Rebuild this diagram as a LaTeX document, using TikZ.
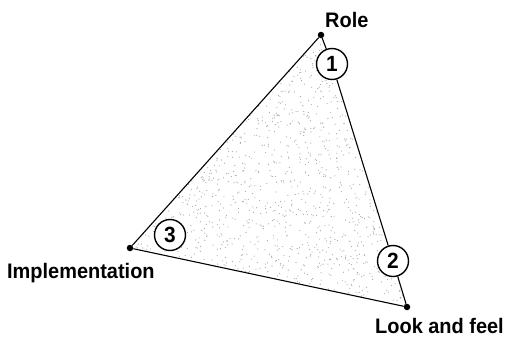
\documentclass[tikz,border=0pt]{standalone}
\usepackage{fontspec}
\setmainfont{Liberation Sans}
\newfontfamily\labfont[FakeStretch=0.95]{Liberation Sans}
\begin{document}
\begin{tikzpicture}[x=1pt,y=-1pt,
  vtx/.style={circle,fill=black,inner sep=0pt,minimum size=6.5pt},
  num/.style={circle,draw,fill=white,line width=1.4pt,minimum size=31pt,inner sep=0pt,
    font=\labfont\fontsize{22}{22}\selectfont\bfseries},
  lab/.style={font=\labfont\fontsize{21}{21}\selectfont\bfseries,inner sep=0pt},
  edgeline/.style={line width=1.1pt}]
\useasboundingbox (0,0) rectangle (505,338);
% stipple
\pgfmathsetseed{12}
\foreach \i in {1,...,950}{
  \pgfmathsetmacro{\ra}{rnd}
  \pgfmathsetmacro{\rb}{rnd}
  \pgfmathsetmacro{\sa}{(\ra+\rb>1) ? 1-\ra : \ra}
  \pgfmathsetmacro{\sb}{(\ra+\rb>1) ? 1-\rb : \rb}
  \pgfmathsetmacro{\px}{321+\sa*(407-321)+\sb*(130-321)}
  \pgfmathsetmacro{\py}{35+\sa*(307-35)+\sb*(248-35)}
  \fill[gray!70] (\px,\py) circle (0.6);
}
\node[vtx] (R) at (321,35) {};
\node[vtx] (L) at (407,307) {};
\node[vtx] (I) at (130,248) {};
\node[num] (n1) at (332,64) {1};
\node[num] (n2) at (393,261) {2};
\node[num] (n3) at (170,235) {3};
\draw[edgeline] (R) -- (n1) -- (n2) -- (L) -- (I) -- (R);
\node[lab,anchor=base west] (tR) at (325,27) {Role};
\node[lab,anchor=base west] (tL) at (375,333) {Look and feel};
\node[lab,anchor=base west] (tI) at (7,278) {Implementation};
\end{tikzpicture}
\end{document}
